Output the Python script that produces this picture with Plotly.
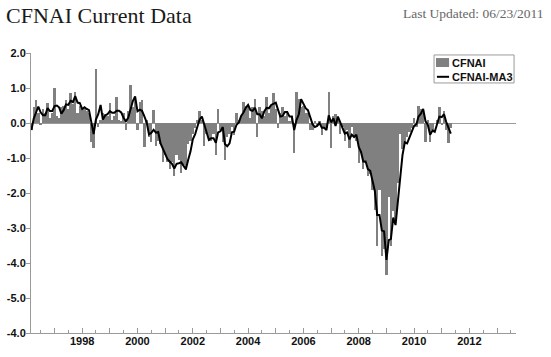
import pandas as pd
import plotly.graph_objects as go

# Monthly CFNAI values (1996 starts in March)
cfnai_1996 = [-0.20, 0.45, 0.65, 0.30, -0.03, 0.40, 0.30, 0.57, 0.15, 0.30]
cfnai_1997 = [1.00, 0.20, 0.15, 0.45, 0.50, 0.65, 0.40, 0.85, 0.55, 0.90, 0.30, 0.50]
cfnai_1998 = [0.40, 0.45, 0.35, 0.30, -0.55, -0.70, 1.55, -0.10, 0.10, 0.30, 0.25, 0.20]
cfnai_1999 = [0.57, 0.10, 0.20, 0.75, 0.10, 0.05, 0.30, -0.20, 0.35, 1.08, 0.45, 0.75]
cfnai_2000 = [-0.20, 0.60, 0.65, -0.68, 0.10, -0.40, -0.55, 0.37, -0.65, -0.50, -0.60, -1.10]
cfnai_2001 = [-0.90, -1.10, -1.30, -1.10, -1.50, -0.90, -1.05, -1.42, -1.20, -1.35, -0.60, -0.50]
cfnai_2002 = [-0.30, -0.15, 0.10, 0.35, 0.10, -0.65, -0.30, -0.50, -0.50, -0.30, -0.90, 0.40]
cfnai_2003 = [-0.20, -0.55, -1.05, -0.40, -0.30, -0.10, -0.35, 0.30, 0.10, 0.20, 0.60, 0.50]
cfnai_2004 = [0.45, 0.15, 0.45, 0.70, -0.40, 0.45, 0.35, 0.20, 0.75, 0.30, 0.50, 0.85]
cfnai_2005 = [0.40, -0.15, 0.30, 0.45, 0.20, 0.30, 0.05, 0.20, -0.85, 0.90, 0.70, 0.45]
cfnai_2006 = [0.50, 0.30, 0.30, -0.20, -0.20, 0.05, -0.10, 0.05, -0.35, -0.10, -0.15, 0.90]
cfnai_2007 = [-0.70, 0.20, 0.25, 0.10, -0.30, -0.10, -0.50, -0.20, -0.70, -0.10, -0.40, -0.50]
cfnai_2008 = [-1.15, -0.85, -1.30, -1.15, -1.50, -1.45, -1.90, -2.48, -3.50, -1.90, -3.80, -3.60]
cfnai_2009 = [-4.33, -2.10, -3.50, -2.50, -2.75, -1.70, -0.30, -0.75, -0.60, -0.40, -0.25, -0.15]
cfnai_2010 = [0.15, -0.10, 0.50, 0.40, 0.30, -0.55, 0.10, -0.55, -0.20, 0.00, 0.10, 0.45]
cfnai_2011 = [-0.05, 0.35, -0.20, -0.57, -0.15]

first_month = "1996-03-01"
series_names = ["CFNAI", "CFNAI-MA3"]

y_tick_values = [2, 1, 0, -1, -2, -3, -4, -5, -6]
y_tick_labels = ["2.0", "1.0", "0.0", "-1.0", "-2.0", "-3.0", "-4.0", "-5.0", "-4.0"]

x_tick_years = list(range(1997, 2014))
x_tick_labels = [str(y) if y % 2 == 0 else "" for y in x_tick_years]

values = (cfnai_1996 + cfnai_1997 + cfnai_1998 + cfnai_1999 + cfnai_2000 + cfnai_2001
          + cfnai_2002 + cfnai_2003 + cfnai_2004 + cfnai_2005 + cfnai_2006 + cfnai_2007
          + cfnai_2008 + cfnai_2009 + cfnai_2010 + cfnai_2011)
dates = pd.date_range(first_month, periods=len(values), freq="MS")
ma3 = pd.Series(values).rolling(3, min_periods=1).mean()

axis_grey = "#9a9a9a"
bar_grey = "#808080"
sans = "Liberation Sans, Arial, sans-serif"
serif = "Liberation Serif, DejaVu Serif, serif"
tick_font = dict(family=sans, size=11, color="#111", weight="bold")

fig = go.Figure()
fig.add_trace(go.Bar(
    x=dates, y=values, name=series_names[0], showlegend=False,
    marker=dict(color=bar_grey, line=dict(width=0)),
    width=30.4 * 86400000,
))
fig.add_trace(go.Scatter(
    x=dates, y=ma3, name=series_names[1], mode="lines", showlegend=False,
    line=dict(color="black", width=2),
))

# legend box drawn in paper coordinates
shapes = [
    dict(type="rect", xref="paper", yref="paper", x0=0.831, x1=0.996, y0=0.893, y1=0.993,
         line=dict(color=axis_grey, width=1), fillcolor="white", layer="above"),
    dict(type="rect", xref="paper", yref="paper", x0=0.835, x1=0.862, y0=0.950, y1=0.982,
         line=dict(width=0), fillcolor=bar_grey, layer="above"),
    dict(type="line", xref="paper", yref="paper", x0=0.837, x1=0.862, y0=0.915, y1=0.915,
         line=dict(color="black", width=2), layer="above"),
]
legend_font = dict(family=sans, size=11, color="#111", weight="bold")

fig.update_layout(
    width=551, height=357,
    margin=dict(l=31, r=35, t=53, b=24),
    paper_bgcolor="white", plot_bgcolor="white",
    bargap=0,
    showlegend=False,
    shapes=shapes,
    xaxis=dict(
        type="date", automargin=False,
        range=["1996-02-25", "2013-09-08"],
        showline=True, linecolor=axis_grey, linewidth=1,
        showgrid=False, zeroline=False,
        tickmode="array",
        tickvals=[f"{y}-01-01" for y in x_tick_years],
        ticktext=x_tick_labels,
        ticks="inside", ticklen=5, tickcolor=axis_grey,
        tickfont=tick_font, ticklabelstandoff=-2,
        minor=dict(ticks="inside", ticklen=3, tickcolor=axis_grey,
                   tickmode="linear", tick0="1996-07-01", dtick="M12", showgrid=False),
    ),
    yaxis=dict(
        range=[-6, 2], automargin=False,
        showline=True, linecolor=axis_grey, linewidth=1,
        showgrid=False,
        zeroline=True, zerolinecolor=axis_grey, zerolinewidth=1,
        tickmode="array", tickvals=y_tick_values, ticktext=y_tick_labels,
        ticks="outside", ticklen=4, tickcolor=axis_grey,
        tickfont=tick_font, ticklabelstandoff=-2,
    ),
    annotations=[
        dict(text="CFNAI Current Data", xref="paper", yref="paper",
             x=-0.055, y=1.135, xanchor="left", yanchor="middle", showarrow=False,
             font=dict(family=serif, size=22, color="#1a1a1a")),
        dict(text="Last Updated: 06/23/2011", xref="paper", yref="paper",
             x=1.06, y=1.142, xanchor="right", yanchor="middle", showarrow=False,
             font=dict(family=serif, size=13.5, color="#666")),
        dict(text=series_names[0], xref="paper", yref="paper",
             x=0.864, y=0.966, xanchor="left", yanchor="middle", showarrow=False,
             font=legend_font),
        dict(text=series_names[1], xref="paper", yref="paper",
             x=0.864, y=0.914, xanchor="left", yanchor="middle", showarrow=False,
             font=legend_font),
    ],
)

fig.write_html("out.html", config={"displayModeBar": False},
               post_script="document.body.style.margin='0';")
